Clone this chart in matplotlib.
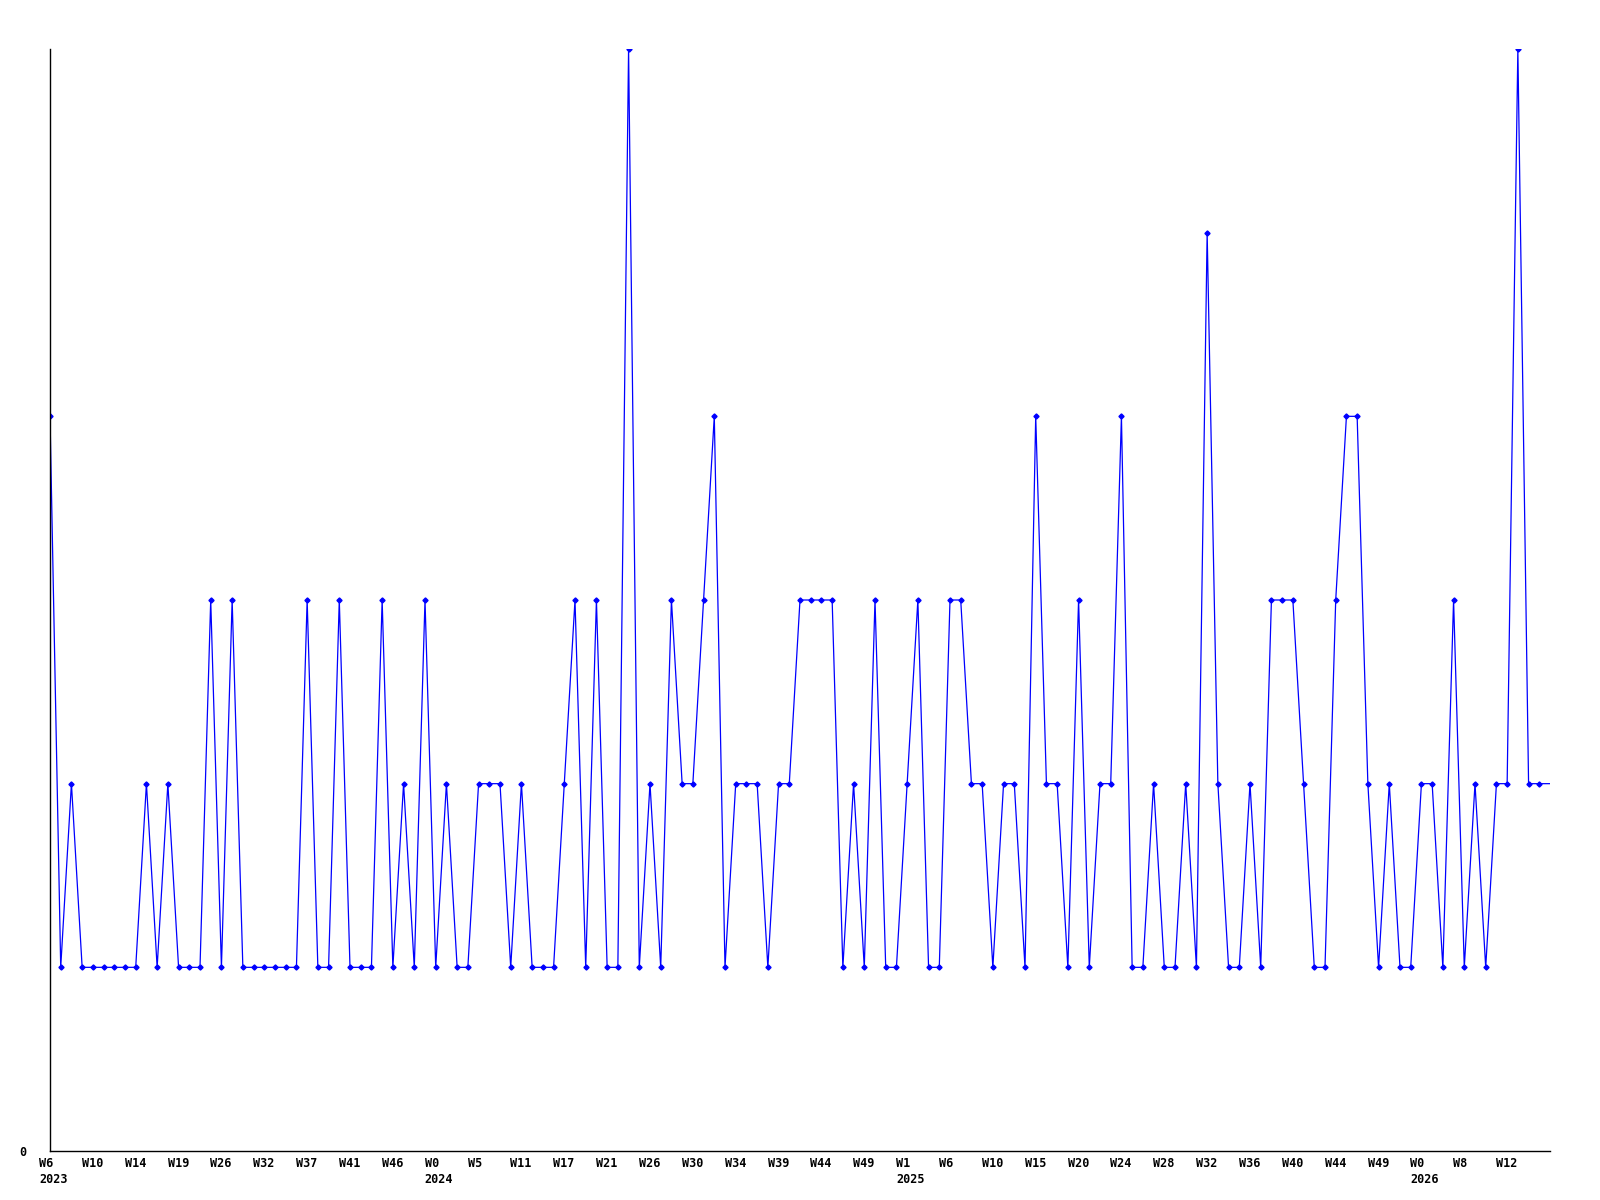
import matplotlib
matplotlib.use("Agg")
import matplotlib.pyplot as plt
from matplotlib.transforms import ScaledTranslation, blended_transform_factory

# weekly counts (last value only continues the line to the edge)
values = [4, 1, 2, 1, 1, 1, 1, 1, 1, 2,
          1, 2, 1, 1, 1, 3, 1, 3, 1, 1,
          1, 1, 1, 1, 3, 1, 1, 3, 1, 1,
          1, 3, 1, 2, 1, 3, 1, 2, 1, 1,
          2, 2, 2, 1, 2, 1, 1, 1, 2, 3,
          1, 3, 1, 1, 6, 1, 2, 1, 3, 2,
          2, 3, 4, 1, 2, 2, 2, 1, 2, 2,
          3, 3, 3, 3, 1, 2, 1, 3, 1, 1,
          2, 3, 1, 1, 3, 3, 2, 2, 1, 2,
          2, 1, 4, 2, 2, 1, 3, 1, 2, 2,
          4, 1, 1, 2, 1, 1, 2, 1, 5, 2,
          1, 1, 2, 1, 3, 3, 3, 2, 1, 1,
          3, 4, 4, 2, 1, 2, 1, 1, 2, 2,
          1, 3, 1, 2, 1, 2, 2, 6, 2, 2,
          2]

week_labels = ["W6", "W10", "W14", "W19", "W26", "W32", "W37", "W41", "W46",
               "W0", "W5", "W11", "W17", "W21", "W26", "W30", "W34", "W39",
               "W44", "W49", "W1", "W6", "W10", "W15", "W20", "W24", "W28",
               "W32", "W36", "W40", "W44", "W49", "W0", "W8", "W12"]
year_at = {0: "2023", 9: "2024", 20: "2025", 32: "2026"}

x = list(range(len(values)))

fig = plt.figure(figsize=(16, 12), dpi=100)
ax = fig.add_axes([50 / 1600, 1 - 1151 / 1200, 1500 / 1600, (1151 - 49) / 1200])

ax.plot(x, values, color="#0000ff", lw=0.9, marker="D", markersize=2.6,
        markevery=list(range(len(values) - 1)))

ax.set_xlim(0, len(values) - 1)
ax.set_ylim(0, 6)

for s in ["top", "right"]:
    ax.spines[s].set_visible(False)
for s in ["left", "bottom"]:
    ax.spines[s].set_linewidth(1)
    ax.spines[s].set_color("black")

font = dict(family="DejaVu Sans Mono", weight="bold", size=8.5)

# x labels: left aligned, a little left of each tick
ax.set_xticks([])
trans = blended_transform_factory(ax.transData, ax.transAxes)
trans = trans + ScaledTranslation(-11 / 100, 0, fig.dpi_scale_trans)
for i, w in enumerate(week_labels):
    ax.text(i * 4, -0.0055, w, transform=trans, ha="left", va="top", **font)
    if i in year_at:
        ax.text(i * 4, -0.020, year_at[i], transform=trans, ha="left", va="top", **font)

ax.set_yticks([0])
ax.set_yticklabels(["0"], **font)
ax.tick_params(axis="y", length=0, pad=17)

fig.savefig("out.png", dpi=100, facecolor="white")
